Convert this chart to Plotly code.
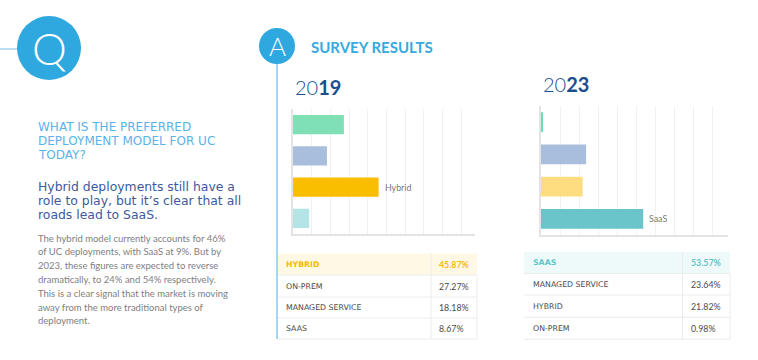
import plotly.graph_objects as go

# ---------------- data ----------------
categories = ["On-Prem", "Managed Service", "Hybrid", "SaaS"]
table_labels = ["ON-PREM", "MANAGED SERVICE", "HYBRID", "SAAS"]
values_2019 = [27.27, 18.18, 45.87, 8.67]
values_2023 = [0.98, 23.64, 21.82, 53.57]
colors_2019 = ["#80e0b5", "#a9bedc", "#f9be00", "#b5e4e7"]
colors_2023 = ["#6fdcb0", "#a9bedc", "#fddd80", "#6ac5ca"]
year_labels = [("20", "19"), ("20", "23")]

question_lines = ["WHAT IS THE PREFERRED", "DEPLOYMENT MODEL FOR UC", "TODAY?"]
lead_lines = ["Hybrid deployments still have a", "role to play, but it\u2019s clear that all",
              "roads lead to SaaS."]
body_lines = ["The hybrid model currently accounts for 46%",
              "of UC deployments, with SaaS at 9%. But by",
              "2023, these figures are expected to reverse",
              "dramatically, to 24% and 54% respectively.",
              "This is a clear signal that the market is moving",
              "away from the more traditional types of",
              "deployment."]

W, H = 758, 360
def px(x): return x / W
def py(y): return 1 - y / H

FONT = "Lato"
WIDE = "DejaVu Sans"
fig = go.Figure()

fig.add_trace(go.Bar(x=values_2019, y=categories, orientation="h",
                     marker=dict(color=colors_2019, line=dict(width=0)),
                     xaxis="x", yaxis="y", hoverinfo="x+y", showlegend=False))
fig.add_trace(go.Bar(x=values_2023, y=categories, orientation="h",
                     marker=dict(color=colors_2023, line=dict(width=0)),
                     xaxis="x2", yaxis="y2", hoverinfo="x+y", showlegend=False))

xax = dict(showgrid=True, gridcolor="#f1f1f1", gridwidth=1, dtick=10, tick0=0,
           showticklabels=False, zeroline=False, showline=True, linecolor="#e3e3e3",
           linewidth=1.5, ticks="", fixedrange=True)
yax = dict(showgrid=False, showticklabels=False, zeroline=False, showline=True,
           linecolor="#e3e3e3", linewidth=1.5, ticks="", autorange="reversed",
           categoryorder="array", categoryarray=categories, fixedrange=True)

fig.update_layout(
    width=W, height=H, margin=dict(l=0, r=0, t=0, b=0),
    paper_bgcolor="white", plot_bgcolor="white", bargap=0.38,
    xaxis=dict(xax, domain=[px(293), px(475)], range=[0, 97.5], anchor="y"),
    yaxis=dict(yax, domain=[py(234), py(109)], anchor="x"),
    xaxis2=dict(xax, domain=[px(541), px(728)], range=[0, 98], anchor="y2"),
    yaxis2=dict(yax, domain=[py(235), py(106)], anchor="x2"),
    font=dict(family=FONT),
)

shapes = []
ann = []

# Q marker
shapes.append(dict(type="line", xref="paper", yref="paper", x0=px(0), x1=px(18), y0=py(49), y1=py(49),
                   line=dict(color="#7dbbe6", width=1)))
shapes.append(dict(type="circle", xref="paper", yref="paper", x0=px(17), x1=px(81), y0=py(80), y1=py(16),
                   fillcolor="#2fa7df", line=dict(width=0)))
ann.append(dict(text="Q", x=px(49), y=py(48), xref="paper", yref="paper", showarrow=False,
                xanchor="center", yanchor="middle",
                font=dict(family=FONT, size=44, color="white", weight=300)))

# A marker + timeline
shapes.append(dict(type="line", xref="paper", yref="paper", x0=px(277), x1=px(277), y0=py(60), y1=py(339),
                   line=dict(color="#86c7ec", width=1.5)))
shapes.append(dict(type="circle", xref="paper", yref="paper", x0=px(259), x1=px(295), y0=py(64), y1=py(28),
                   fillcolor="#2fa7df", line=dict(width=0)))
ann.append(dict(text="A", x=px(277), y=py(46), xref="paper", yref="paper", showarrow=False,
                xanchor="center", yanchor="middle",
                font=dict(family=FONT, size=26, color="white", weight=300)))
ann.append(dict(text="<b>SURVEY RESULTS</b>", x=px(309), y=py(47.5), xref="paper", yref="paper",
                showarrow=False, xanchor="left", yanchor="middle",
                font=dict(family=FONT, size=15, color="#36a9e1")))

# Year headings
for (a, b), (xx, yy) in zip(year_labels, [(293, 87), (541, 84)]):
    ann.append(dict(text=f"{a}<b>{b}</b>", x=px(xx), y=py(yy), xref="paper", yref="paper",
                    showarrow=False, xanchor="left", yanchor="middle",
                    font=dict(family=FONT, size=20, color="#1d4f8f", weight=300)))

# Outside labels on the leading bar of each chart
for vals, xr, yr in [(values_2019, "x", "y"), (values_2023, "x2", "y2")]:
    i = max(range(len(vals)), key=lambda k: vals[k])
    ann.append(dict(text=categories[i], x=vals[i], y=categories[i], xref=xr, yref=yr,
                    showarrow=False, xanchor="left", yanchor="middle", xshift=4,
                    font=dict(family=FONT, size=8.8, color="#777777")))

# Left text
for i, line in enumerate(question_lines):
    ann.append(dict(text=line, x=px(36), y=py(127 + 14 * i), xref="paper", yref="paper",
                    showarrow=False, xanchor="left", yanchor="middle",
                    font=dict(family=WIDE, size=12, color="#5ab3e6")))
for i, line in enumerate(lead_lines):
    ann.append(dict(text=line, x=px(36), y=py(186.5 + 14.2 * i), xref="paper", yref="paper",
                    showarrow=False, xanchor="left", yanchor="middle",
                    font=dict(family=WIDE, size=12.4, color="#3d5a9a")))
for i, line in enumerate(body_lines):
    ann.append(dict(text=line, x=px(36), y=py(238 + 13.8 * i), xref="paper", yref="paper",
                    showarrow=False, xanchor="left", yanchor="middle",
                    font=dict(family=FONT, size=9.5, color="#808080")))

# Tables
def add_table(values, x0, xdiv, x1, row_edges, text_x, val_x, hl_bg, hl_col):
    order = sorted(range(len(values)), key=lambda k: -values[k])
    top_i = order[0]
    shapes.append(dict(type="rect", xref="paper", yref="paper", x0=px(x0), x1=px(x1),
                       y0=py(row_edges[1]), y1=py(row_edges[0]), fillcolor=hl_bg, line=dict(width=0)))
    lc = dict(color="#ececec", width=1)
    for e in row_edges[1:]:
        shapes.append(dict(type="line", xref="paper", yref="paper", x0=px(x0), x1=px(x1),
                           y0=py(e), y1=py(e), line=lc))
    shapes.append(dict(type="line", xref="paper", yref="paper", x0=px(xdiv), x1=px(xdiv),
                       y0=py(row_edges[-1]), y1=py(row_edges[0]), line=lc))
    shapes.append(dict(type="line", xref="paper", yref="paper", x0=px(x1), x1=px(x1),
                       y0=py(row_edges[-1]), y1=py(row_edges[1]), line=lc))
    for r, k in enumerate(order):
        yc = (row_edges[r] + row_edges[r + 1]) / 2
        hl = k == top_i
        col = hl_col if hl else "#4a4a4a"
        lab = f"<b>{table_labels[k]}</b>" if hl else table_labels[k]
        val = f"{values[k]:.2f}%"
        val = f"<b>{val}</b>" if hl else val
        ann.append(dict(text=lab, x=px(text_x), y=py(yc), xref="paper", yref="paper", showarrow=False,
                        xanchor="left", yanchor="middle", font=dict(family=WIDE, size=7.8, color=col)))
        ann.append(dict(text=val, x=px(val_x), y=py(yc), xref="paper", yref="paper", showarrow=False,
                        xanchor="left", yanchor="middle", font=dict(family=FONT, size=8.8, color=col)))

add_table(values_2019, 278, 431, 477, [253.5, 275, 297, 318, 339], 284, 437,
          "#fff8e5", "#f7bb00")
add_table(values_2023, 524, 682.5, 730, [252, 273.5, 295, 317.3, 339.3], 531, 689,
          "#eefaf9", "#5ec6ca")

fig.update_layout(shapes=shapes, annotations=ann)
fig.write_html("out.html", config={"displayModeBar": False},
               post_script="document.body.style.margin='0';document.body.style.padding='0';")
